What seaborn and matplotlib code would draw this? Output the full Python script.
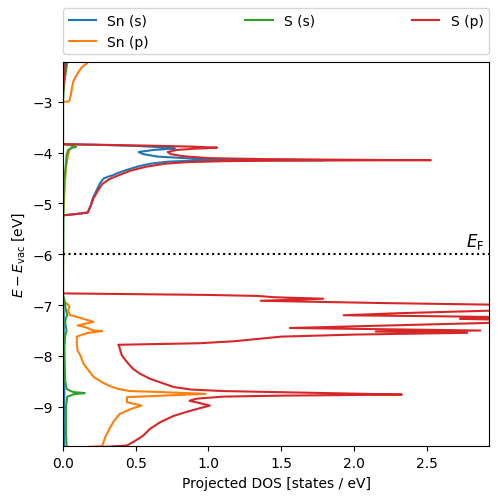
import matplotlib
matplotlib.use("Agg")
import matplotlib.pyplot as plt
import matplotlib.transforms as mtransforms
import seaborn as sns
import pandas as pd

EF = -6.0

# Sn (s)
sn_s_energy = [-2.21, -2.60, -3.83, -3.835, -3.85, -3.87, -3.90, -3.92, -3.95, -3.99, -4.03, -4.08,
               -4.12, -4.14, -4.15, -4.16, -4.18, -4.22, -4.27, -4.34, -4.40, -4.45, -4.475,
               -4.51, -4.60, -4.75, -4.90, -5.05, -5.18, -5.21, -5.235, -6.77, -7.2, -7.8,
               -8.5, -8.75, -9.2, -9.79]
sn_s_dos = [0.01, 0.0, 0.0, 0.0, 0.25, 0.5, 0.7, 0.77, 0.62, 0.52, 0.55, 0.65,
            0.9, 1.4, 1.8, 0.9, 0.72, 0.60, 0.52, 0.44, 0.38, 0.34, 0.31,
            0.28, 0.255, 0.23, 0.205, 0.19, 0.17, 0.09, 0.0, 0.0, 0.005, 0.005,
            0.008, 0.01, 0.006, 0.008]

# Sn (p)
sn_p_energy = [-2.21, -2.25, -2.32, -2.42, -2.52, -2.61, -2.75, -2.88, -2.97, -2.995, -3.005,
               -3.83, -3.835, -3.85, -3.88, -3.95, -4.05, -4.30, -4.80, -5.235,
               -6.85, -6.93, -6.98, -7.03, -7.11, -7.20, -7.23, -7.27, -7.33, -7.40, -7.43,
               -7.50, -7.51, -7.55, -7.62, -7.75, -7.89, -7.99, -8.15, -8.30, -8.41, -8.52,
               -8.59, -8.65, -8.69, -8.71, -8.745, -8.81, -8.91, -8.975, -9.04, -9.14,
               -9.28, -9.43, -9.60, -9.77, -9.79]
sn_p_dos = [0.175, 0.163, 0.13, 0.105, 0.085, 0.07, 0.06, 0.053, 0.045, 0.04, 0.0,
            0.0, 0.0, 0.07, 0.065, 0.045, 0.035, 0.02, 0.01, 0.0,
            0.0, 0.01, 0.03, 0.045, 0.035, 0.05, 0.095, 0.14, 0.21, 0.10, 0.15,
            0.21, 0.27, 0.165, 0.095, 0.095, 0.10, 0.12, 0.14, 0.18, 0.21, 0.27,
            0.32, 0.38, 0.46, 0.67, 0.98, 0.44, 0.44, 0.54, 0.47, 0.39,
            0.35, 0.32, 0.29, 0.27, 0.165]

# S (s)
s_s_energy = [-2.21, -2.40, -2.60, -2.80, -3.0, -3.83, -3.835, -3.86, -3.89, -3.91, -3.95,
              -4.05, -4.45, -4.50, -5.235, -6.80, -6.90, -7.0, -7.1, -7.2, -7.25, -7.35,
              -7.5, -7.6, -7.8, -8.2, -8.5, -8.65, -8.71, -8.73, -8.75, -8.80, -9.0,
              -9.5, -9.79]
s_s_dos = [0.03, 0.02, 0.01, 0.004, 0.0, 0.0, 0.0, 0.06, 0.09, 0.06, 0.035,
           0.025, 0.013, 0.006, 0.003, 0.0, 0.01, 0.015, 0.02, 0.03, 0.02, 0.015,
           0.025, 0.015, 0.01, 0.012, 0.015, 0.025, 0.07, 0.15, 0.08, 0.03, 0.02,
           0.02, 0.025]

# S (p)
s_p_energy = [-2.21, -2.50, -2.80, -3.83, -3.835, -3.85, -3.865, -3.885, -3.905, -3.925, -3.95,
              -3.99, -4.03, -4.07, -4.11, -4.13, -4.145, -4.15, -4.155, -4.16, -4.17,
              -4.19, -4.22, -4.28, -4.36, -4.44, -4.52, -4.62, -4.75, -4.90, -5.05,
              -5.18, -5.21, -5.235, -6.77, -6.785, -6.80, -6.82, -6.845, -6.875, -6.915,
              -6.96, -7.01, -7.07, -7.11, -7.16, -7.20, -7.22, -7.245, -7.27, -7.30,
              -7.35, -7.45, -7.50, -7.52, -7.545, -7.58, -7.62, -7.71, -7.75, -7.78,
              -7.80, -7.90, -7.99, -8.12, -8.25, -8.35, -8.45, -8.53, -8.61, -8.66,
              -8.69, -8.71, -8.735, -8.76, -8.78, -8.80, -8.84, -8.88, -8.975, -9.02,
              -9.10, -9.18, -9.30, -9.43, -9.57, -9.68, -9.76, -9.79]
s_p_dos = [0.02, 0.008, 0.0, 0.0, 0.0, 0.3, 0.6, 0.9, 1.06, 0.9, 0.78,
           0.72, 0.74, 0.82, 1.0, 1.4, 2.1, 2.53, 2.0, 1.5, 1.1,
           0.85, 0.70, 0.57, 0.46, 0.39, 0.32, 0.27, 0.24, 0.21, 0.19,
           0.17, 0.09, 0.0, 0.0, 0.5, 1.0, 1.34, 1.45, 1.79, 1.36,
           2.2, 3.4, 3.2, 2.93, 2.3, 1.93, 2.6, 3.2, 2.73, 3.2,
           2.93, 1.56, 2.87, 2.15, 2.78, 2.0, 1.5, 1.18, 0.94, 0.38,
           0.385, 0.395, 0.405, 0.44, 0.48, 0.53, 0.60, 0.68, 0.76, 0.88,
           1.1, 1.45, 1.9, 2.33, 1.5, 1.1, 0.92, 0.87, 1.01, 0.95,
           0.85, 0.76, 0.67, 0.60, 0.55, 0.49, 0.44, 0.275]

series = [
    ("Sn (s)", sn_s_dos, sn_s_energy),
    ("Sn (p)", sn_p_dos, sn_p_energy),
    ("S (s)", s_s_dos, s_s_energy),
    ("S (p)", s_p_dos, s_p_energy),
]
colors = sns.color_palette("tab10", 4)

fig = plt.figure(figsize=(4.98, 5.02), dpi=100)
ax = fig.add_axes([0.1265, 0.1086, 0.8555, 0.7659])

for (label, dos, energy), c in zip(series, colors):
    df = pd.DataFrame({"dos": dos, "energy": energy})
    sns.lineplot(data=df, x="dos", y="energy", sort=False, estimator=None,
                 color=c, label=label, lw=1.5, ax=ax)

ax.axhline(EF, color="k", ls=":", lw=1.5)
trans = mtransforms.blended_transform_factory(ax.transAxes, ax.transData)
ax.text(0.99, EF + 0.07, r"$E_\mathrm{F}$", transform=trans, ha="right", va="bottom", fontsize=12)

ax.set_xlim(0, 2.93)
ax.set_ylim(-9.78, -2.22)
ax.set_xlabel("Projected DOS [states / eV]")
ax.set_ylabel(r"$E - E_\mathrm{vac}$ [eV]")
ax.legend(bbox_to_anchor=(0, 1.02, 1, 0.102), loc="lower left", ncol=3,
          mode="expand", borderaxespad=0)

fig.savefig("out.png", dpi=100)
